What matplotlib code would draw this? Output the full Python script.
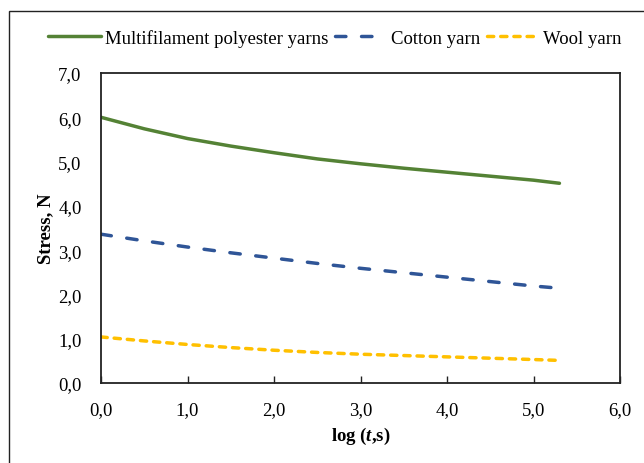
import matplotlib.pyplot as plt
import matplotlib.ticker as mticker
from matplotlib.patches import Rectangle

plt.rcParams['font.family'] = ['Liberation Serif', 'DejaVu Serif']
plt.rcParams['mathtext.fontset'] = 'custom'
plt.rcParams['mathtext.rm'] = 'Liberation Serif:bold'
plt.rcParams['mathtext.it'] = 'Liberation Serif:italic:bold'

# stress relaxation curves, log time in seconds
log_t = [0.0, 0.5, 1.0, 1.5, 2.0, 2.5, 3.0, 3.5, 4.0, 4.5, 5.0, 5.3]
polyester = [6.00, 5.74, 5.52, 5.35, 5.20, 5.06, 4.95, 4.85, 4.76, 4.67, 4.58, 4.51]
cotton = [3.36, 3.21, 3.07, 2.94, 2.82, 2.70, 2.59, 2.49, 2.39, 2.29, 2.19, 2.14]
wool = [1.04, 0.95, 0.87, 0.80, 0.74, 0.69, 0.65, 0.62, 0.59, 0.56, 0.53, 0.51]

labels = ['Multifilament polyester yarns', 'Cotton yarn', 'Wool yarn']
x_ticks = [0, 1, 2, 3, 4, 5, 6]
y_ticks = [0, 1, 2, 3, 4, 5, 6, 7]

fs = 13.5
fig = plt.figure(figsize=(6.44, 4.64), dpi=100)
ax = fig.add_axes([101/644, 1-384/464, 519/644, 310/464])

lw = 2.5
ax.plot(log_t, polyester, color='#548235', lw=lw, solid_capstyle='round', label=labels[0])
ax.plot(log_t, cotton, color='#2F5597', lw=lw, dashes=(3.0, 4.5), dash_capstyle='round', label=labels[1])
ax.plot(log_t, wool, color='#FFC000', lw=lw, dashes=(1.8, 2.0), dash_capstyle='round', label=labels[2])

ax.set_xlim(0, 6)
ax.set_ylim(0, 7)
ax.set_xticks(x_ticks)
ax.set_yticks(y_ticks)
fmt = mticker.FuncFormatter(lambda v, p: f'{v:.1f}'.replace('.', ','))
ax.xaxis.set_major_formatter(fmt)
ax.yaxis.set_major_formatter(fmt)
ax.tick_params(axis='x', direction='in', length=5, width=1, labelsize=fs, pad=13, color='#222222')
ax.tick_params(axis='y', length=0, labelsize=fs, pad=14)
for s in ax.spines.values():
    s.set_linewidth(1.3)
    s.set_color('#222222')

ax.set_xlabel(r'log ($\mathit{t}$,s)', fontsize=fs, fontweight='bold', labelpad=5)
ax.set_ylabel('Stress, N', fontsize=fs, fontweight='bold', labelpad=3)

fig.legend(loc='center', bbox_to_anchor=(0.52, 0.916), ncol=3, frameon=False,
           fontsize=fs, handlelength=2.8, handletextpad=0.2, columnspacing=0.35)

# outer chart frame
fig.patches.append(Rectangle((9/644, -0.2), 1.2, 1.2 - 12/464, transform=fig.transFigure,
                             fill=False, edgecolor='#222222', lw=1.0))

fig.savefig('out.png', dpi=100)
